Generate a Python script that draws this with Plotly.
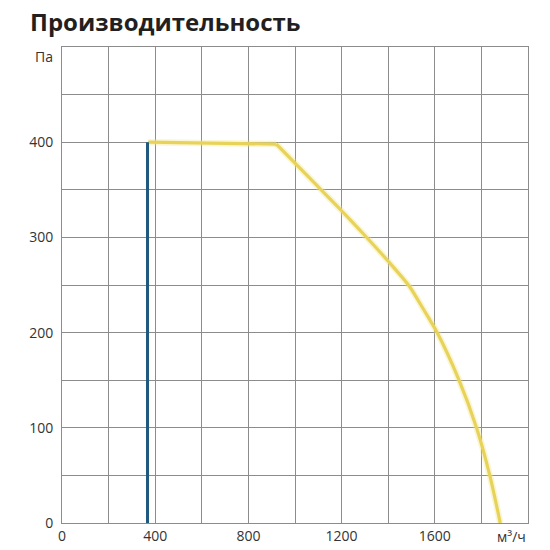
import plotly.graph_objects as go

# data -----------------------------------------------------------------------
flow_x = [370, 920, 1000, 1100, 1200, 1300, 1400, 1490, 1550, 1610, 1704, 1779, 1836, 1881]
press_y = [400, 398, 378, 353, 328, 302, 275, 249, 225, 200, 150, 100, 50, 0]

limit_x = [367, 367]
limit_y = [0, 400]

x_tickvals = [0, 200, 400, 600, 800, 1000, 1200, 1400, 1600, 1800, 2000]
x_ticktext = ["0", "", "400", "", "800", "", "1200", "", "1600", "", ""]
y_tickvals = [0, 50, 100, 150, 200, 250, 300, 350, 400, 450, 500]
y_ticktext = ["0", "", "100", "", "200", "", "300", "", "400", "", ""]

TITLE = "Производительность"
X_UNIT = "м³/ч"
Y_UNIT = "Па"

TXTCOL = "#333333"
GRDCOL = "#8c8c8c"
YELCOL = "#e8d35a"
GLWCOL = "rgba(242, 230, 130, 0.35)"
BLUCOL = "#1f5a7e"

# page body has an 8px margin, so everything is laid out 8px up/left
OFF = 8
ML, MR, MT, MB = 62 - OFF, 22 + OFF, 47 - OFF, 27 + OFF
PLOT_W = 550 - ML - MR

fig = go.Figure()

KNEE = 1  # index where the flat part ends and the curve starts
parts = [
    (flow_x[:KNEE + 1], press_y[:KNEE + 1], "linear"),
    (flow_x[KNEE:], press_y[KNEE:], "spline"),
]
for xs, ys, shape in parts:
    fig.add_trace(go.Scatter(  # soft glow
        x=xs, y=ys, mode="lines",
        line=dict(color=GLWCOL, width=6.5, shape=shape, smoothing=0.7),
        hoverinfo="skip",
    ))
for xs, ys, shape in parts:
    fig.add_trace(go.Scatter(  # fan curve
        x=xs, y=ys, mode="lines",
        line=dict(color=YELCOL, width=3.2, shape=shape, smoothing=0.7),
    ))

fig.add_trace(go.Scatter(  # minimum flow line
    x=limit_x, y=limit_y, mode="lines",
    line=dict(color=BLUCOL, width=3),
))

axis_common = dict(
    showgrid=True, gridcolor=GRDCOL, gridwidth=1,
    zeroline=False, automargin=False,
    showline=True, linecolor=GRDCOL, linewidth=1, mirror=True,
    ticks="", tickfont=dict(size=14, color=TXTCOL, family="Open Sans"),
)

fig.update_xaxes(
    range=[0, 2000], tickmode="array",
    tickvals=x_tickvals, ticktext=x_ticktext,
    ticklabelstandoff=0,
    **axis_common,
)
fig.update_yaxes(
    range=[0, 500], tickmode="array",
    tickvals=y_tickvals, ticktext=y_ticktext,
    ticklabelstandoff=5,
    **axis_common,
)

fig.add_annotation(  # chart title
    text=f"<b>{TITLE}</b>", x=(28 - OFF - ML) / PLOT_W, y=1,
    xref="paper", yref="paper", xanchor="left", yanchor="bottom", yshift=7,
    showarrow=False, font=dict(size=24, color="#231f20", family="Open Sans"),
)
fig.add_annotation(
    text=Y_UNIT, x=0, y=500, xref="x", yref="y",
    xanchor="right", yanchor="middle", xshift=-7, yshift=-9,
    showarrow=False, font=dict(size=14, color=TXTCOL, family="Open Sans"),
)
fig.add_annotation(
    text=X_UNIT, x=2000, y=0, xref="x", yref="y",
    xanchor="right", yanchor="top", yshift=-2,
    showarrow=False, font=dict(size=14, color=TXTCOL, family="Open Sans"),
)

fig.update_layout(
    width=550, height=550,
    margin=dict(l=ML, r=MR, t=MT, b=MB, pad=0),
    paper_bgcolor="white", plot_bgcolor="white",
    font=dict(family="Open Sans", size=14, color=TXTCOL),
    showlegend=False,
)

fig.write_html("out.html")
